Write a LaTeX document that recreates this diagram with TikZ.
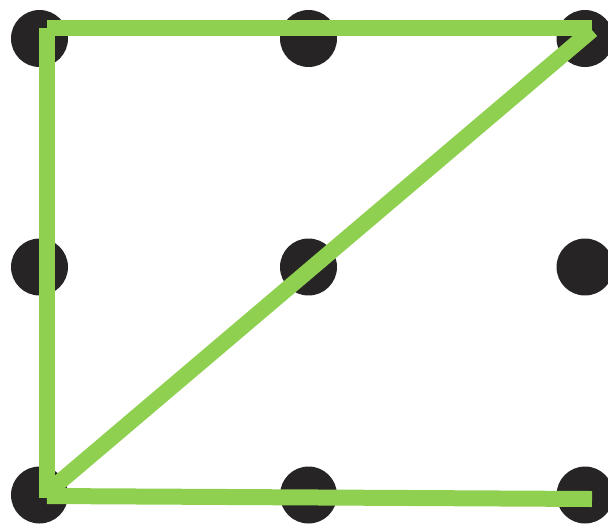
\documentclass[tikz,border=0pt]{standalone}
\usepackage{tikz}
\usetikzlibrary{positioning}
\definecolor{dotgrey}{RGB}{38,36,36}
\definecolor{pathgreen}{RGB}{143,208,80}
\tikzset{
  gdot/.style={circle,fill=dotgrey,draw=none,minimum size=1.14cm,inner sep=0pt},
  gline/.style={pathgreen,line width=0.32cm,line cap=butt}
}

\begin{document}
\begin{tikzpicture}[x=0.02cm,y=-0.02cm]
  % --- frame, same proportions as the reference ---
  \useasboundingbox (0,0) rectangle (608,524);
  % --- the 3x3 grid of dots ---
  \foreach \c/\x in {1/39.5,2/308.5,3/585}
    \foreach \r/\y in {1/38.5,2/267,3/495}
      \node[gdot] (d\c\r) at (\x,\y) {};
  % --- corners of the green path ---
  \coordinate (tl) at (47,28);
  \coordinate (tr) at (592,28);
  \coordinate (bl) at (47,498);
  \coordinate (dtop) at (592,30);
  \coordinate (dbot) at (49,491);
  \coordinate (bstart) at (47,496);
  \coordinate (bend) at (592,499);
  % --- the path itself ---
  \draw[gline] (tl) -- (tr);
  \draw[gline] (tl) -- (bl);
  \draw[gline] (dtop) -- (dbot);
  \draw[gline] (bstart) -- (bend);
\end{tikzpicture}
\end{document}
